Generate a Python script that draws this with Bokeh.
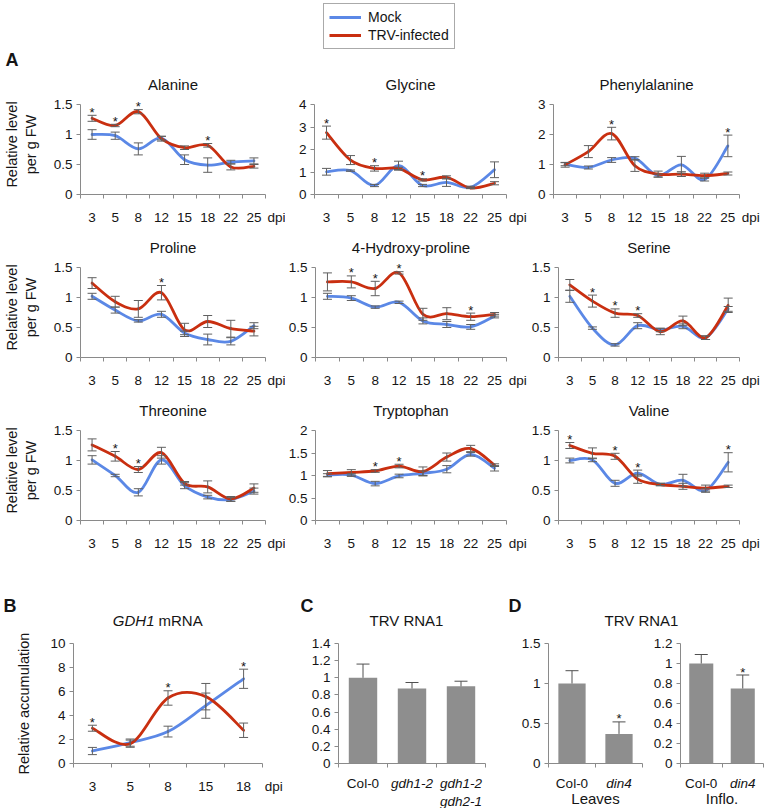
from bokeh.plotting import figure
from bokeh.models import (ColumnDataSource, Whisker, TeeHead, FixedTicker, Label,
                          Legend, LegendItem, Range1d)
from bokeh.layouts import row, column
from bokeh.embed import file_html
from bokeh.resources import INLINE

FONT = "Liberation Sans"
BLUE = "#5b88e6"
RED = "#c92f10"
AXIS_COLOR = "#8a8a8a"
ERR_COLOR = "#606060"
BAR_COLOR = "#8e8e8e"
TXT = "#151515"
NBSP = "\u00a0"

# ---------------- data ----------------
dpi_labels = ["3", "5", "8", "12", "15", "18", "22", "25"]
unit_label = "dpi"

ala_mock = [1.00, 0.98, 0.76, 0.94, 0.58, 0.49, 0.54, 0.56]
ala_mock_err = [0.08, 0.06, 0.10, 0.03, 0.08, 0.12, 0.03, 0.05]
ala_trv = [1.27, 1.15, 1.38, 0.93, 0.78, 0.82, 0.46, 0.47]
ala_trv_err = [0.05, 0.02, 0.035, 0.04, 0.03, 0.03, 0.05, 0.03]
ala_sig = ["3", "5", "8", "18"]
ala_yticks = [0, 0.5, 1, 1.5]

gly_mock = [1.01, 1.06, 0.40, 1.28, 0.40, 0.54, 0.32, 1.10]
gly_mock_err = [0.15, 0.03, 0.05, 0.20, 0.05, 0.18, 0.05, 0.35]
gly_trv = [2.75, 1.53, 1.16, 1.16, 0.65, 0.76, 0.29, 0.50]
gly_trv_err = [0.29, 0.20, 0.12, 0.05, 0.05, 0.07, 0.03, 0.07]
gly_sig = ["3", "8", "15"]
gly_yticks = [0, 1, 2, 3, 4]

phe_mock = [1.01, 0.90, 1.15, 1.21, 0.63, 0.99, 0.50, 1.62]
phe_mock_err = [0.05, 0.05, 0.08, 0.05, 0.05, 0.28, 0.05, 0.36]
phe_trv = [0.99, 1.43, 2.03, 0.96, 0.68, 0.68, 0.63, 0.70]
phe_trv_err = [0.08, 0.20, 0.21, 0.19, 0.10, 0.08, 0.08, 0.05]
phe_sig = ["8", "25"]
phe_yticks = [0, 1, 2, 3]

pro_mock = [1.02, 0.79, 0.61, 0.72, 0.41, 0.30, 0.27, 0.53]
pro_mock_err = [0.05, 0.05, 0.02, 0.05, 0.03, 0.09, 0.06, 0.05]
pro_trv = [1.24, 0.93, 0.81, 1.08, 0.46, 0.60, 0.48, 0.44]
pro_trv_err = [0.09, 0.09, 0.14, 0.12, 0.11, 0.10, 0.14, 0.08]
pro_sig = ["12"]
pro_yticks = [0, 0.5, 1, 1.5]

hyp_mock = [1.02, 0.99, 0.84, 0.92, 0.61, 0.55, 0.51, 0.69]
hyp_mock_err = [0.05, 0.04, 0.02, 0.02, 0.05, 0.05, 0.04, 0.03]
hyp_trv = [1.26, 1.26, 1.15, 1.41, 0.72, 0.73, 0.68, 0.72]
hyp_trv_err = [0.15, 0.10, 0.12, 0.02, 0.10, 0.10, 0.06, 0.03]
hyp_sig = ["5", "8", "12", "22"]
hyp_yticks = [0, 0.5, 1, 1.5]

ser_mock = [1.02, 0.49, 0.21, 0.53, 0.46, 0.52, 0.33, 0.81]
ser_mock_err = [0.10, 0.02, 0.02, 0.05, 0.03, 0.04, 0.03, 0.04]
ser_trv = [1.21, 0.94, 0.74, 0.70, 0.43, 0.61, 0.33, 0.87]
ser_trv_err = [0.09, 0.10, 0.07, 0.03, 0.05, 0.08, 0.03, 0.12]
ser_sig = ["5", "8", "12"]
ser_yticks = [0, 0.5, 1, 1.5]

thr_mock = [1.01, 0.75, 0.47, 1.01, 0.58, 0.39, 0.35, 0.49]
thr_mock_err = [0.07, 0.02, 0.06, 0.07, 0.05, 0.03, 0.03, 0.05]
thr_trv = [1.26, 1.07, 0.85, 1.13, 0.62, 0.56, 0.36, 0.54]
thr_trv_err = [0.10, 0.08, 0.05, 0.09, 0.03, 0.10, 0.04, 0.07]
thr_sig = ["5", "8"]
thr_yticks = [0, 0.5, 1, 1.5]

trp_mock = [1.01, 1.01, 0.82, 0.99, 1.05, 1.14, 1.47, 1.16]
trp_mock_err = [0.03, 0.03, 0.05, 0.04, 0.05, 0.08, 0.04, 0.06]
trp_trv = [1.04, 1.07, 1.10, 1.21, 1.09, 1.41, 1.60, 1.23]
trp_trv_err = [0.07, 0.06, 0.03, 0.04, 0.10, 0.09, 0.07, 0.03]
trp_sig = ["8", "12"]
trp_yticks = [0, 0.5, 1, 1.5, 2]

val_mock = [1.00, 1.01, 0.62, 0.79, 0.60, 0.67, 0.50, 0.97]
val_mock_err = [0.04, 0.03, 0.05, 0.05, 0.02, 0.10, 0.03, 0.16]
val_trv = [1.25, 1.12, 1.07, 0.69, 0.60, 0.57, 0.54, 0.57]
val_trv_err = [0.05, 0.09, 0.05, 0.07, 0.02, 0.05, 0.05, 0.02]
val_sig = ["3", "8", "12", "25"]
val_yticks = [0, 0.5, 1, 1.5]

gdh_labels = ["3", "5", "8", "15", "18"]
gdh_mock = [1.04, 1.74, 2.66, 4.82, 7.06]
gdh_mock_err = [0.30, 0.30, 0.45, 1.05, 0.80]
gdh_trv = [2.94, 1.65, 5.46, 5.57, 2.77]
gdh_trv_err = [0.25, 0.30, 0.60, 1.10, 0.60]
gdh_sig = ["3", "8", "18"]
gdh_yticks = [0, 2, 4, 6, 8, 10]

c_cats = ["Col-0", "gdh1-2", "gdh1-2\ngdh2-1"]
c_vals = [1.00, 0.875, 0.90]
c_err = [0.16, 0.07, 0.06]
c_sig = []
c_yticks = [0, 0.2, 0.4, 0.6, 0.8, 1, 1.2, 1.4]

d_cats = ["Col-0", "din4"]
d_leaves_vals = [1.00, 0.37]
d_leaves_err = [0.16, 0.15]
d_leaves_sig = ["din4"]
d_leaves_yticks = [0, 0.5, 1, 1.5]
d_inflo_vals = [1.00, 0.75]
d_inflo_err = [0.09, 0.135]
d_inflo_sig = ["din4"]
d_inflo_yticks = [0, 0.2, 0.4, 0.6, 0.8, 1, 1.2]


# --------------- helpers ---------------
def smooth(xs, ys):
    n = len(xs)
    out = dict(x0=[], y0=[], x1=[], y1=[], cx0=[], cy0=[], cx1=[], cy1=[])
    for i in range(n - 1):
        xa, ya = (xs[i - 1], ys[i - 1]) if i > 0 else (xs[i], ys[i])
        xb, yb = xs[i], ys[i]
        xc, yc = xs[i + 1], ys[i + 1]
        xd, yd = (xs[i + 2], ys[i + 2]) if i + 2 < n else (xc, yc)
        out["x0"].append(xb)
        out["y0"].append(yb)
        out["cx0"].append(xb + (xc - xa) / 6.0)
        out["cy0"].append(yb + (yc - ya) / 6.0)
        out["cx1"].append(xc - (xd - xb) / 6.0)
        out["cy1"].append(yc - (yd - yb) / 6.0)
        out["x1"].append(xc)
        out["y1"].append(yc)
    return out


def base_fig(width, height, bl, br, bt, bb, n, yticks, pad=0):
    fh = height - bt - bb
    ytop = yticks[-1] * fh / float(fh - pad)
    p = figure(width=width, height=height, output_backend="svg", toolbar_location=None,
               x_range=Range1d(-0.5, n - 0.5), y_range=Range1d(0, ytop),
               min_border_left=bl, min_border_right=br,
               min_border_top=bt, min_border_bottom=bb,
               outline_line_color=None, background_fill_color="white",
               border_fill_color="white")
    p.grid.visible = False
    for ax in (p.xaxis[0], p.yaxis[0]):
        ax.axis_line_color = AXIS_COLOR
        ax.major_tick_line_color = AXIS_COLOR
        ax.minor_tick_line_color = AXIS_COLOR
        ax.major_label_text_font = FONT
        ax.major_label_text_font_size = "13.5px"
        ax.major_label_text_color = TXT
    xa = p.xaxis[0]
    xa.major_tick_out = 0
    xa.major_tick_in = 0
    xa.minor_tick_out = 4
    xa.minor_tick_in = 0
    xa.major_label_standoff = 11
    ya = p.yaxis[0]
    ya.bounds = (0, yticks[-1])
    ya.ticker = FixedTicker(ticks=yticks, minor_ticks=[])
    ya.major_label_overrides = {t: f"{t:g}" for t in yticks}
    ya.major_tick_out = 4
    ya.major_tick_in = 0
    ya.minor_tick_out = 0
    ya.minor_tick_in = 0
    ya.major_label_standoff = 4
    return p


def star(p, x, y):
    p.add_layout(Label(x=x, y=y, y_offset=3, text="*", text_font=FONT,
                       text_font_size="13px", text_color=TXT, text_align="center",
                       text_baseline="alphabetic"))


def line_panel(title, mock, merr, trv, terr, sig, yticks, width, bl, br,
               xlabels=dpi_labels, height=163, bt=24, bb=39, pad=10, ylabel=None,
               ylabel_standoff=12):
    n = len(xlabels)
    p = base_fig(width, height, bl, br, bt, bb, n, yticks, pad=pad)
    xs = list(range(n))
    xa = p.xaxis[0]
    xa.ticker = FixedTicker(ticks=xs + [n - 0.5],
                            minor_ticks=[i - 0.5 for i in range(n + 1)])
    overrides = {i: lab for i, lab in enumerate(xlabels)}
    overrides[n - 0.5] = NBSP * 6 + unit_label
    xa.major_label_overrides = overrides
    if title:
        p.title.text = title
        p.title.align = "center"
        p.title.text_font = FONT
        p.title.text_font_size = "15px"
        p.title.text_font_style = "normal"
        p.title.text_color = TXT
        p.title.standoff = 3
    if ylabel:
        ya = p.yaxis[0]
        ya.axis_label = ylabel
        ya.axis_label_text_font = FONT
        ya.axis_label_text_font_size = "14.5px"
        ya.axis_label_text_font_style = "normal"
        ya.axis_label_text_color = TXT
        ya.axis_label_standoff = ylabel_standoff
    for vals, col in ((mock, BLUE), (trv, RED)):
        seg = ColumnDataSource(smooth(xs, vals))
        p.bezier(x0="x0", y0="y0", x1="x1", y1="y1", cx0="cx0", cy0="cy0",
                 cx1="cx1", cy1="cy1", source=seg, line_color=col, line_width=2.8,
                 line_cap="round")
    for vals, errs in ((mock, merr), (trv, terr)):
        src = ColumnDataSource(dict(x=xs, lo=[v - e for v, e in zip(vals, errs)],
                                    hi=[v + e for v, e in zip(vals, errs)]))
        p.add_layout(Whisker(base="x", lower="lo", upper="hi", source=src,
                             line_color=ERR_COLOR, line_width=1, level="overlay",
                             upper_head=TeeHead(size=9, line_color=ERR_COLOR, line_width=1),
                             lower_head=TeeHead(size=9, line_color=ERR_COLOR, line_width=1)))
    for s in sig:
        i = xlabels.index(s)
        star(p, i, max(mock[i] + merr[i], trv[i] + terr[i]))
    return p


def bar_panel(cats, vals, errs, sig, yticks, width, bl, br, height=142, bt=13, bb=9,
              lab_height=36, group=None):
    n = len(cats)
    p = base_fig(width, height, bl, br, bt, bb, n, yticks)
    xs = list(range(n))
    xa = p.xaxis[0]
    xa.ticker = FixedTicker(ticks=[], minor_ticks=[i - 0.5 for i in range(n + 1)])
    src = ColumnDataSource(dict(x=xs, top=vals, hi=[v + e for v, e in zip(vals, errs)]))
    p.vbar(x="x", top="top", width=0.58, source=src, fill_color=BAR_COLOR, line_color=None)
    p.add_layout(Whisker(base="x", lower="top", upper="hi", source=src,
                         line_color="#505050", line_width=1, level="overlay",
                         upper_head=TeeHead(size=13, line_color="#505050", line_width=1),
                         lower_head=None))
    for s in sig:
        i = cats.index(s)
        star(p, i, vals[i] + errs[i])
    # category labels (mixed upright / italic) in a strip sharing the category scale
    lab = figure(width=width, height=lab_height, output_backend="svg", toolbar_location=None,
                 x_range=Range1d(-0.5, n - 0.5), y_range=Range1d(lab_height, 0),
                 x_axis_location=None, y_axis_location=None,
                 min_border_left=bl, min_border_right=br, min_border_top=0,
                 min_border_bottom=0, outline_line_color=None,
                 background_fill_color="white", border_fill_color="white")
    lab.grid.visible = False
    for i, c in enumerate(cats):
        lab.add_layout(Label(x=i, y=3, text=c, text_font=FONT, text_font_size="13.5px",
                             text_color=TXT, text_align="center", text_baseline="top",
                             text_font_style="normal" if c.startswith("Col") else "italic"))
    if group:
        lab.add_layout(Label(x=(n - 1) / 2.0, y=26, text=group, text_font=FONT,
                             text_font_size="15px", text_color=TXT, text_align="center",
                             text_baseline="middle"))
    return column(p, lab)


def blank(width, height):
    p = figure(width=width, height=height, output_backend="svg", toolbar_location=None,
               x_range=Range1d(0, width), y_range=Range1d(height, 0),
               x_axis_location=None, y_axis_location=None,
               min_border_left=0, min_border_right=0, min_border_top=0, min_border_bottom=0,
               outline_line_color=None, background_fill_color="white",
               border_fill_color="white")
    p.grid.visible = False
    return p


def txt(p, x, y, text, size="15px", style="normal", align="left"):
    p.add_layout(Label(x=x, y=y, text=text, text_font=FONT, text_font_size=size,
                       text_font_style=style, text_color=TXT, text_align=align,
                       text_baseline="middle"))


# --------------- header with legend ---------------
NAN = float("nan")
hdr = blank(764, 70)
r_m = hdr.line(x=[NAN], y=[NAN], line_color=BLUE, line_width=3)
r_t = hdr.line(x=[NAN], y=[NAN], line_color=RED, line_width=3)
leg = Legend(items=[LegendItem(label="Mock", renderers=[r_m]),
                    LegendItem(label="TRV-infected", renderers=[r_t])],
             location=(323, 21), label_text_font=FONT, label_text_font_size="14px",
             label_text_color=TXT, glyph_width=32, glyph_height=14, label_height=14,
             spacing=2, padding=5, margin=0, label_standoff=7,
             border_line_color="#555555", border_line_width=1,
             background_fill_color="white", background_fill_alpha=1)
hdr.add_layout(leg)
txt(hdr, 5, 59, "A", size="18px", style="bold")

# --------------- rows of amino acids ---------------
YL = "Relative level\nper g FW"
W1, BL1, BR1 = 285, 73, 20
W2, BL2, BR2 = 243, 29, 22
W3, BL3, BR3 = 236, 25, 25

row1 = row(
    line_panel("Alanine", ala_mock, ala_mock_err, ala_trv, ala_trv_err, ala_sig, ala_yticks,
               W1, BL1, BR1, ylabel=YL),
    line_panel("Glycine", gly_mock, gly_mock_err, gly_trv, gly_trv_err, gly_sig, gly_yticks,
               W2, BL2, BR2),
    line_panel("Phenylalanine", phe_mock, phe_mock_err, phe_trv, phe_trv_err, phe_sig,
               phe_yticks, W3, BL3, BR3),
)
row2 = row(
    line_panel("Proline", pro_mock, pro_mock_err, pro_trv, pro_trv_err, pro_sig, pro_yticks,
               W1, BL1, BR1, ylabel=YL),
    line_panel("4-Hydroxy-proline", hyp_mock, hyp_mock_err, hyp_trv, hyp_trv_err, hyp_sig,
               hyp_yticks, W2, BL2, BR2),
    line_panel("Serine", ser_mock, ser_mock_err, ser_trv, ser_trv_err, ser_sig, ser_yticks,
               W3, BL3, BR3),
)
row3 = row(
    line_panel("Threonine", thr_mock, thr_mock_err, thr_trv, thr_trv_err, thr_sig, thr_yticks,
               W1, BL1, BR1, ylabel=YL),
    line_panel("Tryptophan", trp_mock, trp_mock_err, trp_trv, trp_trv_err, trp_sig,
               trp_yticks, W2, BL2, BR2),
    line_panel("Valine", val_mock, val_mock_err, val_trv, val_trv_err, val_sig, val_yticks,
               W3, BL3, BR3),
)

# --------------- bottom panels ---------------
bhdr = blank(300, 71)
txt(bhdr, 3, 46, "B", size="18px", style="bold")
txt(bhdr, 154, 61, "GDH1", style="italic", align="right")
txt(bhdr, 158, 61, "mRNA", align="left")
pb = line_panel(None, gdh_mock, gdh_mock_err, gdh_trv, gdh_trv_err, gdh_sig, gdh_yticks,
                300, 73, 38, xlabels=gdh_labels, height=178, bt=13, bb=45, pad=0,
                ylabel="Relative accumulation", ylabel_standoff=15)

chdr = blank(200, 71)
txt(chdr, 0, 46, "C", size="18px", style="bold")
txt(chdr, 106, 61, "TRV RNA1", align="center")
pc = bar_panel(c_cats, c_vals, c_err, c_sig, c_yticks, 200, 38, 15)

dhdr = blank(264, 71)
txt(dhdr, 8, 46, "D", size="18px", style="bold")
txt(dhdr, 141, 61, "TRV RNA1", align="center")
pdl = bar_panel(d_cats, d_leaves_vals, d_leaves_err, d_leaves_sig, d_leaves_yticks,
                150, 48, 8, group="Leaves")
pdr = bar_panel(d_cats, d_inflo_vals, d_inflo_err, d_inflo_sig, d_inflo_yticks,
                114, 25, 1, group="Inflo.")

bottom = row(column(bhdr, row(pb)), column(chdr, row(pc)), column(dhdr, row(pdl, pdr)))

layout = column(hdr, row1, row2, row3, bottom)

open("out.html", "w").write(file_html(layout, INLINE, title="Figure"))
